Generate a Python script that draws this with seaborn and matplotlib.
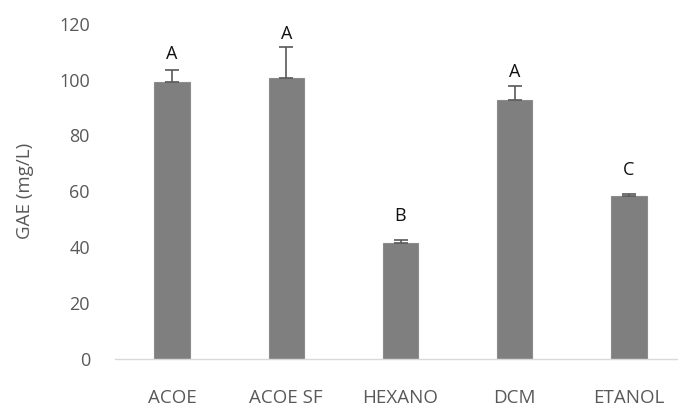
import matplotlib
matplotlib.use("Agg")
import matplotlib.pyplot as plt
import seaborn as sns
import pandas as pd

# Total phenolics per extract (gallic acid equivalents)
extracts = ["ACOE", "ACOE SF", "HEXANO", "DCM", "ETANOL"]
gae_mean = [99.2, 100.6, 41.3, 92.9, 58.2]
gae_sd = [4.2, 11.2, 1.1, 4.8, 0.8]
groups = ["A", "A", "B", "A", "C"]
yticks = [0, 20, 40, 60, 80, 100, 120]

sns.set_theme(style="white")
plt.rcParams["font.family"] = ["Open Sans", "DejaVu Sans"]

df = pd.DataFrame({"extract": extracts, "gae": gae_mean})

fig = plt.figure(figsize=(6.78, 4.07), dpi=100)
ax = fig.add_axes([115 / 678, 1 - 358.5 / 407, 571 / 678, (358.5 - 24) / 407])

sns.barplot(data=df, x="extract", y="gae", order=extracts, color="#7f7f7f",
            saturation=1, width=0.31, errorbar=None, ax=ax,
            edgecolor="#8c8c8c", linewidth=0.8)

xs = range(len(extracts))
ax.errorbar(xs, gae_mean, yerr=[[0] * len(gae_sd), gae_sd], fmt="none",
            ecolor="#595959", elinewidth=1.2, capsize=5, capthick=1.2)

# significance letters above each error bar
gaps_pt = [5, 2.5, 11, 4, 10.5]
for x, m, s, g, gp in zip(xs, gae_mean, gae_sd, groups, gaps_pt):
    ax.annotate(g, (x, m + s), xytext=(0, gp), textcoords="offset points",
                ha="center", va="bottom", fontsize=13, color="#111111")

ax.set_ylim(0, 120)
ax.set_xlim(-0.5, 4.5)
ax.set_yticks(yticks)
ax.set_yticklabels([str(t) for t in yticks])
ax.tick_params(axis="both", length=0, colors="#595959")
ax.tick_params(axis="y", labelsize=13, pad=18)
ax.tick_params(axis="x", labelsize=13.5, pad=22)
ax.set_xlabel("")
ax.set_ylabel("GAE (mg/L)", fontsize=13.5, color="#595959", labelpad=18)

for side in ["top", "right", "left"]:
    ax.spines[side].set_visible(False)
ax.spines["bottom"].set_color("#d9d9d9")
ax.spines["bottom"].set_linewidth(1)

fig.savefig("out.png", dpi=100)
